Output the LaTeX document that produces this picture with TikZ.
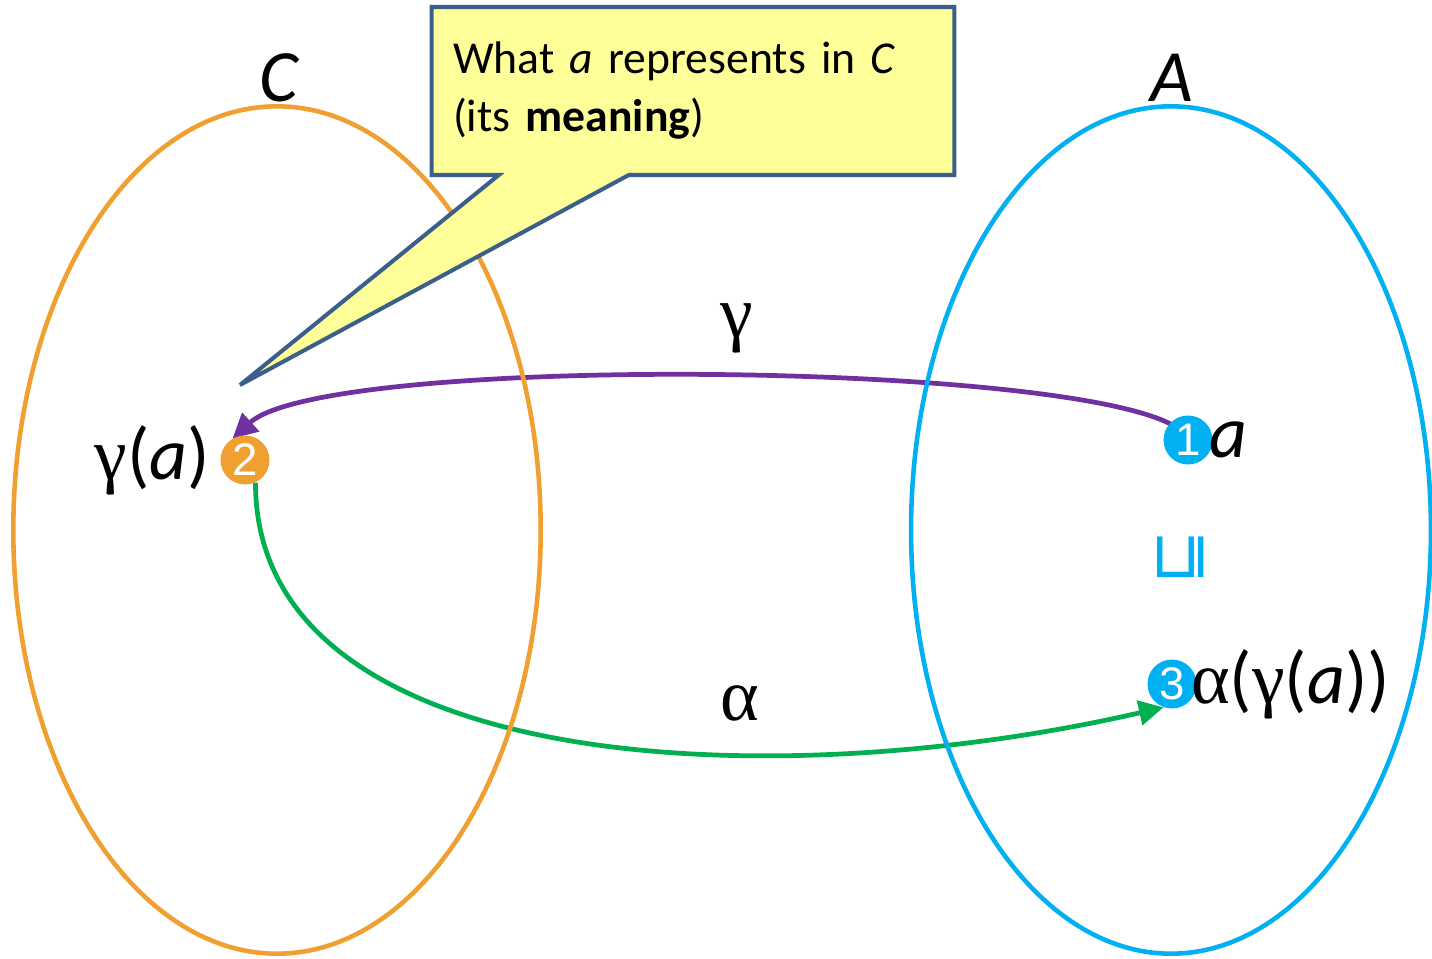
\documentclass[tikz,border=0pt]{standalone}
\usepackage{fontspec}
\setmainfont{Carlito}
\newfontfamily\grkfont{Liberation Serif}
\newfontfamily\numfont{Liberation Sans}
\newfontfamily\symfont{DejaVu Sans}
\usetikzlibrary{shapes.geometric, shapes.callouts, arrows.meta, positioning, backgrounds}
\definecolor{setorange}{RGB}{240,160,48}
\definecolor{setcyan}{RGB}{0,176,240}
\definecolor{gammapurple}{RGB}{112,48,160}
\definecolor{alphagreen}{RGB}{0,176,80}
\definecolor{noteyellow}{RGB}{255,255,153}
\definecolor{noteblue}{RGB}{58,95,139}
\newcommand{\bigtxt}{\fontsize{42}{50}\selectfont}

\begin{document}
\begin{tikzpicture}[
    x=0.02cm, y=-0.02cm,
    setel/.style={ellipse, line width=2.6pt, minimum height=16.95cm},
    dot/.style={circle, inner sep=0pt, minimum size=0.98cm, text=white,
                font=\numfont\fontsize{26}{26}\selectfont},
    lbl/.style={inner sep=0pt, font=\bigtxt},
    mapto/.style={-{Triangle[length=14pt,width=14pt]}, line width=2.7pt},
    note/.style={rectangle callout, fill=noteyellow, draw=noteblue, line width=2.3pt,
                 minimum width=10.46cm, minimum height=3.36cm, text width=9.6cm,
                 inner xsep=0.42cm, align=left, font=\fontsize{26}{33}\selectfont},
]
\useasboundingbox (0,0) rectangle (1432,959);

% the two sets
\node[setel, draw=setorange, minimum width=10.55cm] (setC) at (277,530) {};
\node[setel, draw=setcyan,   minimum width=10.4cm]  (setA) at (1171,530) {};
\node[lbl] (labC) at (280,78) {\textit{C}};
\node[lbl] (labA) at (1172,78) {\textit{A}};

% callout
\coordinate (calltip) at (240,385);
\node[note, callout absolute pointer=(calltip), callout pointer width=2.6cm] (meaning) at (693,91)
    {What \textit{a} represents in \textit{C}\\(its \textbf{meaning})};

% points
\node[dot, fill=setcyan]   (n1) at (1188,440) {1};
\node[dot, fill=setorange] (n2) at (245,460)  {2};
\node[dot, fill=setcyan]   (n3) at (1172,684) {3};

\node[lbl, right=-0.08cm of n1] (pa)   {\textit{a}};
\node[lbl, left=0.2cm of n2]    (pga)  {{\grkfont γ}(\textit{a})};
\node[lbl, right=-0.12cm of n3] (paga) {{\grkfont α}({\grkfont γ}(\textit{a}))};
\node[inner sep=0pt, text=setcyan, rotate=90, font=\symfont\fontsize{37}{37}\selectfont]
    (leq) at (1181,557) {⊑};

% maps
\node[lbl] (lgamma) at (737,328) {\grkfont γ};
\node[lbl] (lalpha) at (740,703) {\grkfont α};
\begin{scope}[on background layer]
\draw[mapto, gammapurple] (n1.center) .. controls (1165,362) and (330,350) .. (n2.120);
\draw[mapto, alphagreen]  (n2.-65) .. controls (255,770) and (760,800) .. (n3.250);
\end{scope}

\end{tikzpicture}
\end{document}
